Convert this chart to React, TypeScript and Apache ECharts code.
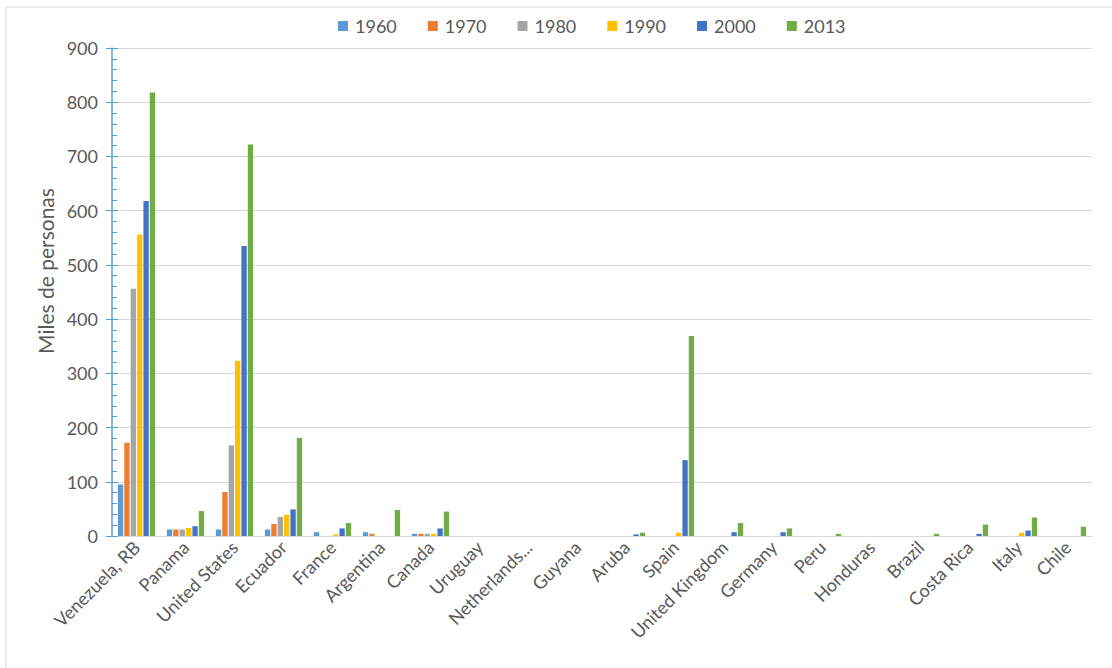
import React, { useEffect, useRef } from "react";
import * as echarts from "echarts";

const categories = [
  "Venezuela, RB", "Panama", "United States", "Ecuador", "France", "Argentina",
  "Canada", "Uruguay", "Netherlands...", "Guyana", "Aruba", "Spain",
  "United Kingdom", "Germany", "Peru", "Honduras", "Brazil", "Costa Rica", "Italy", "Chile",
];
const seriesNames = ["1960", "1970", "1980", "1990", "2000", "2013"];
const s1960 = [95, 12, 12, 12, 7, 7, 4, 0, 0, 0, 0, 0, 0, 0, 0, 0, 0, 0, 0, 0];
const s1970 = [172, 12, 81, 22, 0, 4, 4, 0, 0, 0, 0, 0, 0, 0, 0, 0, 0, 0, 0, 0];
const s1980 = [456, 12, 167, 35, 0, 0, 4, 0, 0, 0, 0, 0, 0, 0, 0, 0, 0, 0, 0, 0];
const s1990 = [556, 15, 323, 39, 3, 0, 4, 0, 0, 0, 0, 6, 0, 0, 0, 0, 0, 0, 6, 0];
const s2000 = [618, 18, 535, 49, 14, 0, 14, 0, 0, 0, 3, 140, 7, 7, 0, 0, 0, 4, 10, 0];
const s2013 = [818, 46, 722, 181, 24, 48, 45, 0, 0, 0, 6, 369, 24, 14, 4, 0, 4, 21, 34, 17];
const colors = ["#5B9BD5", "#ED7D31", "#A5A5A5", "#FFC000", "#4472C4", "#70AD47"];
const yTicks = { min: 0, max: 900, interval: 100 };
const yTitle = "Miles de personas";

export default function App() {
  const ref = useRef<HTMLDivElement>(null);
  useEffect(() => {
    if (!ref.current) return;
    const chart = echarts.init(ref.current, null, { renderer: "svg" });
    const data = [s1960, s1970, s1980, s1990, s2000, s2013];
    const font = "Lato, 'Open Sans', sans-serif";
    chart.setOption({
      animation: false,
      textStyle: { fontFamily: font },
      color: colors,
      graphic: [
        {
          type: "rect",
          shape: { x: 6, y: 7, width: 1200, height: 800 },
          style: { fill: "none", stroke: "#d9d9d9", lineWidth: 1 },
          silent: true,
        },
        {
          type: "text",
          x: 45,
          y: 271,
          rotation: Math.PI / 2,
          style: {
            text: yTitle,
            fill: "#595959",
            font: `21px ${font}`,
            textAlign: "center",
            textVerticalAlign: "middle",
          },
          silent: true,
        },
      ],
      legend: {
        top: 12,
        left: 333,
        itemWidth: 10,
        itemHeight: 10,
        itemGap: 31,
        icon: "rect",
        textStyle: { fontSize: 18, color: "#595959", fontFamily: font, padding: [0, 0, 0, 2] },
        data: seriesNames,
      },
      grid: { left: 112, right: 20, top: 48, bottom: 132, containLabel: false },
      xAxis: {
        type: "category",
        data: categories,
        axisLine: { lineStyle: { color: "#d9d9d9", width: 1 } },
        axisTick: { show: false },
        axisLabel: {
          rotate: 45,
          interval: 0,
          fontSize: 18,
          color: "#595959",
          margin: 8,
          fontFamily: font,
        },
      },
      yAxis: [
        {
          type: "value",
          ...yTicks,
          axisLine: { show: true, lineStyle: { color: "#5B9BD5", width: 1.5 } },
          axisTick: { show: true, inside: true, length: 6, lineStyle: { color: "#5B9BD5" } },
          minorTick: { show: true, splitNumber: 5, length: 5, lineStyle: { color: "#5B9BD5" } },
          axisLabel: { fontSize: 18, color: "#595959", margin: 14, fontFamily: font },
          splitLine: { lineStyle: { color: "#d9d9d9", width: 1 } },
        },
        {
          type: "value",
          ...yTicks,
          position: "left",
          axisLine: { show: false },
          axisTick: { show: true, inside: false, length: 6, lineStyle: { color: "#5B9BD5" } },
          axisLabel: { show: false },
          splitLine: { show: false },
        },
      ],
      series: seriesNames.map((name, i) => ({
        name,
        type: "bar",
        data: data[i],
        barGap: "20%",
        barCategoryGap: "24%",
        itemStyle: { color: colors[i] },
      })),
    });
    return () => chart.dispose();
  }, []);
  return <div ref={ref} style={{ width: 1112, height: 668, position: "absolute", left: 0, top: 0 }} />;
}
